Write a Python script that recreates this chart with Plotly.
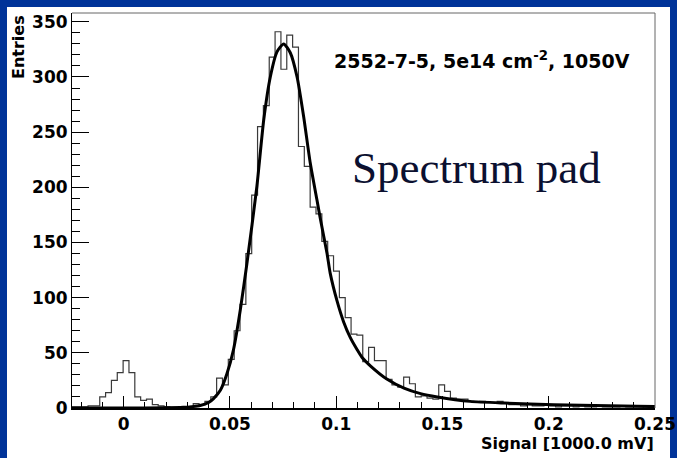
import plotly.graph_objects as go

# ---------------- data ----------------
bin_low = -0.025
bin_width = 0.00275
counts = [1, 1, 1, 2, 2, 10, 14, 25, 32, 43,
          32, 10, 7, 8, 3, 2, 1, 0, 0, 1,
          1, 4, 3, 6, 10, 27, 21, 44, 70, 94,
          140, 193, 255, 274, 318, 341, 307, 338, 327, 237,
          219, 182, 176, 151, 138, 124, 100, 82, 67, 66,
          42, 55, 43, 43, 26, 21, 19, 28, 22, 10,
          11, 9, 8, 21, 15, 9, 8, 8, 6, 5,
          6, 5, 5, 6, 5, 3, 3, 2, 3, 2,
          2, 3, 2, 1, 2, 2, 1, 2, 1, 1,
          2, 1, 1, 1, 2, 1, 1, 1, 0, 1]

fit_x = [-0.025, 0.0, 0.02, 0.028, 0.032, 0.036, 0.040, 0.0423, 0.0455, 0.0486,
         0.0517, 0.0549, 0.0580, 0.0627, 0.0659, 0.0690, 0.0722, 0.0753, 0.0784,
         0.0816, 0.0847, 0.0878, 0.0910, 0.0925, 0.0957, 0.0972, 0.1004, 0.1035,
         0.1066, 0.1098, 0.1121, 0.1162, 0.124, 0.1319, 0.1397, 0.1476, 0.163,
         0.179, 0.2025, 0.2416, 0.25]
fit_y = [0.0, 0.0, 0.2, 0.6, 1.2, 2.2, 5, 8.5, 16, 31,
         53, 89, 131, 201, 261, 300, 323, 330, 322,
         300, 264, 222, 188, 172, 140, 122, 97, 78,
         64, 53, 46, 38, 26, 18, 13, 10, 6,
         4.5, 3, 1.5, 1.3]

x_ticks = [0, 0.05, 0.1, 0.15, 0.2, 0.25]
x_ticktext = ["0", "0.05", "0.1", "0.15", "0.2", "0.25"]
y_ticks = [0, 50, 100, 150, 200, 250, 300, 350]

x_range = [-0.0243, 0.25]
y_range = [0, 358]

# ---------------- layout helpers ----------------
W, H = 677, 458
L, R, T, B = 72, 22, 13, 50
PW, PH = W - L - R, H - T - B


def px(xp):
    return (xp - L) / PW


def py(yp):
    return (H - B - yp) / PH


edges = [bin_low + i * bin_width for i in range(len(counts) + 1)]
hist_y = counts + [counts[-1]]

BLUE = "#003399"
FONT = "DejaVu Sans"

fig = go.Figure()
fig.add_trace(go.Scatter(x=edges, y=hist_y, mode="lines", line_shape="hv",
                         line=dict(color="#3a3a3a", width=1.2),
                         hoverinfo="skip", showlegend=False))
fig.add_trace(go.Scatter(x=fit_x, y=fit_y, mode="lines", line_shape="spline",
                         line=dict(color="black", width=3, smoothing=0.6),
                         hoverinfo="skip", showlegend=False))

fig.update_layout(
    width=W, height=H,
    margin=dict(l=L, r=R, t=T, b=B, autoexpand=False),
    paper_bgcolor=BLUE,
    plot_bgcolor="white",
    showlegend=False,
    xaxis=dict(range=x_range, tickvals=x_ticks, ticktext=x_ticktext,
               automargin=False,
               ticks="inside", ticklen=12, tickwidth=1, tickcolor="black",
               showline=True, linecolor="black", linewidth=1.5,
               showgrid=False, zeroline=False,
               tickfont=dict(family=FONT, size=17, color="black", weight="bold"),
               minor=dict(dtick=0.01, ticks="inside", ticklen=6,
                          tickcolor="black", tickwidth=1, showgrid=False)),
    yaxis=dict(range=y_range, tickvals=y_ticks, automargin=False,
               ticks="inside", ticklen=17, tickwidth=1, tickcolor="black",
               showline=True, linecolor="black", linewidth=1,
               showgrid=False, zeroline=False,
               tickfont=dict(family=FONT, size=17, color="black", weight="bold"),
               minor=dict(dtick=10, ticks="inside", ticklen=8,
                          tickcolor="black", tickwidth=1, showgrid=False)),
    shapes=[
        dict(type="rect", xref="paper", yref="paper", layer="below",
             x0=px(7), x1=px(670), y0=py(458), y1=py(7),
             fillcolor="white", line=dict(width=0)),
        dict(type="line", xref="paper", yref="paper",
             x0=0, x1=1, y0=1, y1=1, line=dict(color="#666666", width=1)),
        dict(type="line", xref="paper", yref="paper",
             x0=1, x1=1, y0=0, y1=1, line=dict(color="#666666", width=1)),
    ],
    annotations=[
        dict(text="Entries", xref="paper", yref="paper", x=px(18), y=py(13),
             xanchor="center", yanchor="top", textangle=-90, showarrow=False,
             font=dict(family=FONT, size=16, color="black", weight="bold")),
        dict(text="Signal [1000.0 mV]", xref="paper", yref="paper",
             x=px(656), y=py(443), xanchor="right", yanchor="middle",
             showarrow=False,
             font=dict(family=FONT, size=16, color="black", weight="bold")),
        dict(text="2552-7-5, 5e14 cm<sup>-2</sup>, 1050V", xref="paper",
             yref="paper", x=px(332), y=py(60), xanchor="left",
             yanchor="middle", showarrow=False,
             font=dict(family=FONT, size=19, color="black", weight="bold")),
        dict(text="Spectrum pad", xref="paper", yref="paper",
             x=px(476), y=py(168), xanchor="center", yanchor="middle",
             showarrow=False,
             font=dict(family="Liberation Serif", size=45, color="#0b1030")),
    ],
)

fig.write_html("out.html")
